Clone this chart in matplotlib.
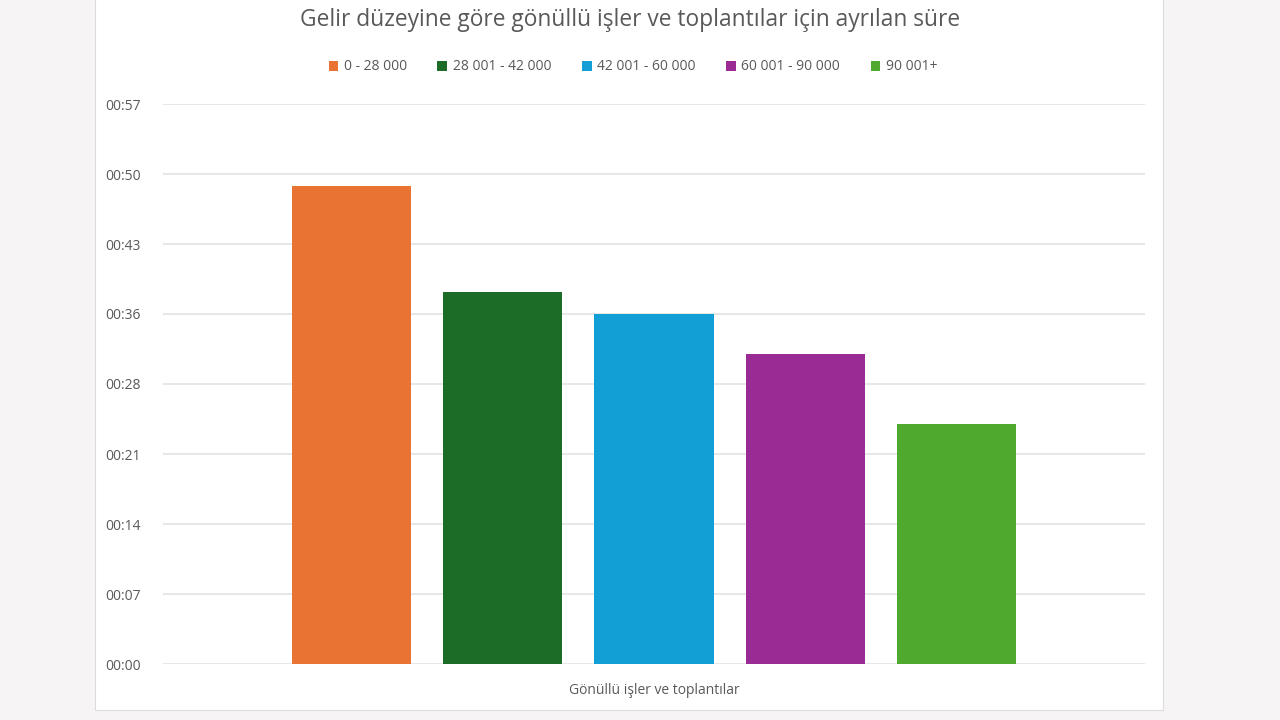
import numpy as np
import matplotlib.pyplot as plt
from matplotlib.patches import Rectangle
from matplotlib.ticker import FuncFormatter, MultipleLocator

plt.rcParams['font.family'] = ['Open Sans', 'DejaVu Sans']

# veriler (dakika)
gruplar = ['0 - 28 000', '28 001 - 42 000', '42 001 - 60 000', '60 001 - 90 000', '90 001+']
sureler = [49.2, 38.3, 36.0, 31.9, 24.7]
renkler = ['#e87332', '#1c6b26', '#129fd6', '#9b2b94', '#4ea92e']
kategori = 'Gönüllü işler ve toplantılar'

fig = plt.figure(figsize=(12.8, 7.2), dpi=100)
fig.patch.set_facecolor('#f6f4f5')
# beyaz panel
fig.patches.append(Rectangle((95 / 1280, 10 / 720), 1068 / 1280, 712 / 720,
                             transform=fig.transFigure, facecolor='white',
                             edgecolor='#dcdcdc', linewidth=0.8, zorder=-10))

ax = fig.add_axes([163 / 1280, 56 / 720, 982 / 1280, 560 / 720])
ax.set_facecolor('white')

genislik = 0.1212
adim = 0.1538
for i, (g, s, r) in enumerate(zip(gruplar, sureler, renkler)):
    ax.bar((i - 2) * adim, s, width=genislik, color=r, label=g, zorder=3)

ax.set_xlim(-0.5, 0.5)
ax.set_ylim(0, 57.6)
ax.yaxis.set_major_locator(MultipleLocator(7.2))
ax.yaxis.set_major_formatter(FuncFormatter(lambda v, p: '00:%02d' % int(v + 1e-6)))
ax.grid(axis='y', color='#e3e3e3', linewidth=1.2, zorder=0)
for sp in ax.spines.values():
    sp.set_visible(False)
ax.set_xticks([])
ax.tick_params(axis='y', length=0, pad=16, labelsize=10, labelcolor='#595959')
ax.set_xlabel(kategori, fontsize=10, color='#595959', labelpad=14)

fig.text(630 / 1280, 1 - 20 / 720, 'Gelir düzeyine göre gönüllü işler ve toplantılar için ayrılan süre',
         ha='center', va='center', fontsize=16.4, color='#595959')
fig.legend(loc='center', bbox_to_anchor=(633 / 1280, 1 - 67 / 720), ncol=5, frameon=False,
           fontsize=10, labelcolor='#595959', handlelength=0.7, handleheight=0.7,
           handletextpad=0.4, columnspacing=2.2)

fig.savefig('out.png', dpi=100, facecolor=fig.get_facecolor())
